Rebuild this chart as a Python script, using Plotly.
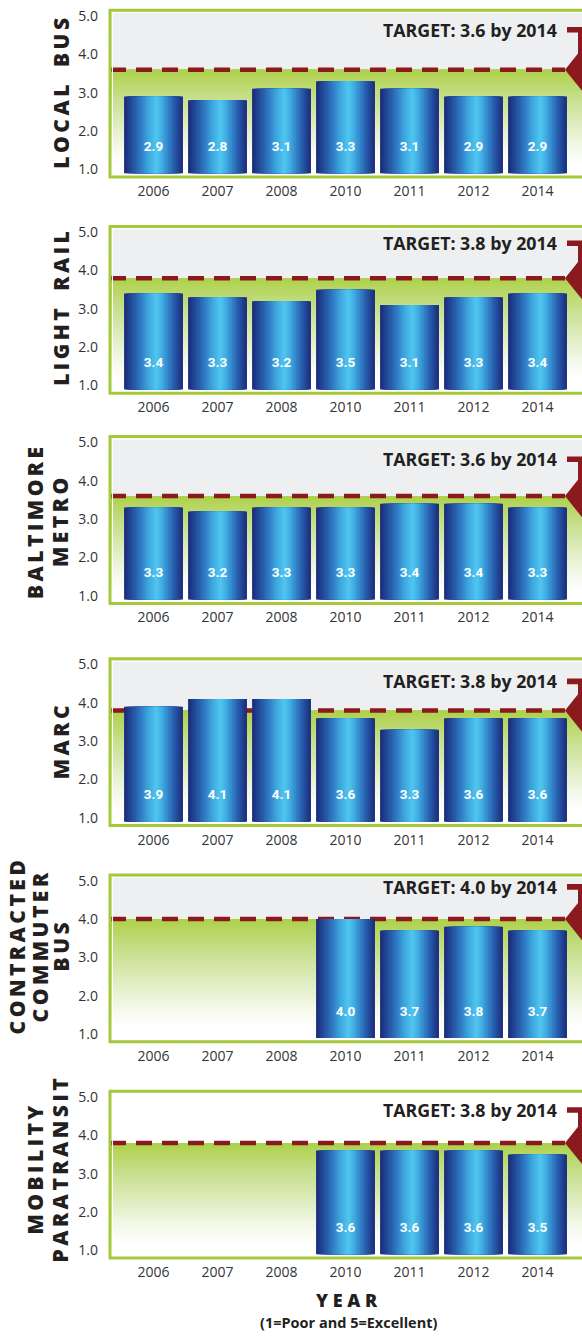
import plotly.graph_objects as go

# ---------------- data ----------------
years = ["2006", "2007", "2008", "2010", "2011", "2012", "2014"]
local_bus = [2.9, 2.8, 3.1, 3.3, 3.1, 2.9, 2.9]
light_rail = [3.4, 3.3, 3.2, 3.5, 3.1, 3.3, 3.4]
baltimore_metro = [3.3, 3.2, 3.3, 3.3, 3.4, 3.4, 3.3]
marc = [3.9, 4.1, 4.1, 3.6, 3.3, 3.6, 3.6]
contracted_commuter_bus = [None, None, None, 4.0, 3.7, 3.8, 3.7]
mobility_paratransit = [None, None, None, 3.6, 3.6, 3.6, 3.5]
targets = [3.6, 3.8, 3.6, 3.8, 4.0, 3.8]
target_year = "2014"
y_ticks = [1.0, 2.0, 3.0, 4.0, 5.0]
panel_titles = [["LOCAL BUS"], ["LIGHT RAIL"], ["BALTIMORE", "METRO"], ["MARC"],
                ["CONTRACTED", "COMMUTER", "BUS"], ["MOBILITY", "PARATRANSIT"]]
panels = [local_bus, light_rail, baltimore_metro, marc, contracted_commuter_bus, mobility_paratransit]

# ---------------- layout constants ----------------
W, H = 582, 1338
LEFT = 110
X0, X1 = -0.68, 6.695
Y0, Y1 = 0.8, 5.15
UNIT = 38.5
BASE = 0.9
BAR_W = 0.92
LABEL_Y = 1.57
top5_px = [12, 229, 440, 663, 880, 1097]
target_text_y = [4.64, 4.71, 4.56, 4.56, 4.84, 4.66]
upper_bg = ["#eeeff1"] * 5 + ["#ffffff"]
title_x_px = [[61], [61], [35, 60], [61], [17, 40, 61], [35, 60]]
title_y_px = [90, 306, 521, 741, 947, 1171]

RED = "#8b1a1f"
GREEN_BORDER = "#a6c93c"


def px_to_x(px):
    return X0 + (px - LEFT) / (W - LEFT) * (X1 - X0)


def xpaper(px):
    return (px - LEFT) / (W - LEFT)


def ypaper(py):
    return 1 - py / H


def hex2rgb(h):
    h = h.lstrip("#")
    return tuple(int(h[i:i + 2], 16) for i in (0, 2, 4))


def interp(stops, t):
    for (a, ca), (b, cb) in zip(stops[:-1], stops[1:]):
        if a <= t <= b:
            f = 0 if b == a else (t - a) / (b - a)
            r1, g1, b1 = hex2rgb(ca)
            r2, g2, b2 = hex2rgb(cb)
            return "rgb(%d,%d,%d)" % (round(r1 + (r2 - r1) * f), round(g1 + (g2 - g1) * f), round(b1 + (b2 - b1) * f))
    return stops[-1][1]


def spaced(s, gap="\u2006"):
    return (gap + "\u2002" + gap).join(gap.join(w) for w in s.split())


bar_stops = [(0, "#1b2e7c"), (0.35, "#2963b2"), (0.7, "#3ca3dd"), (1, "#52cbf3")]
green_stops = [(0, "#ffffff"), (0.12, "#ffffff"), (0.25, "#f6faee"), (0.47, "#e1eec4"),
               (0.74, "#c6df8c"), (1, "#aed14a")]

fig = go.Figure()
shapes = []
annotations = []
N_LAYERS = 16
N_STRIPS = 40

apex_x = px_to_x(565)
shaft_x = px_to_x(578)
stub_x = px_to_x(567)
far_x = px_to_x(620)
text_right_x = px_to_x(559)
slope = 1.25 * 64 / UNIT  # data-y per data-x

for k in range(6):
    s = "" if k == 0 else str(k + 1)
    xa, ya = "x" + s, "y" + s
    vals = panels[k]
    T = targets[k]

    top_px = top5_px[k] - (Y1 - 5.0) * UNIT
    bot_px = top5_px[k] + (5.0 - Y0) * UNIT
    fig.update_layout(**{
        "xaxis" + s: dict(domain=[0, 1], range=[X0, X1], anchor=ya, tickmode="array",
                          tickvals=list(range(len(years))), ticktext=years, showgrid=False,
                          zeroline=False, showline=False, ticks="", ticklabelstandoff=4,
                          tickfont=dict(family="Open Sans", size=14, color="#333333"), fixedrange=True),
        "yaxis" + s: dict(domain=[ypaper(bot_px), ypaper(top_px)], range=[Y0, Y1], anchor=xa,
                          tickmode="array", tickvals=y_ticks, ticktext=["%.1f" % v for v in y_ticks],
                          showgrid=False, zeroline=False, showline=False, ticks="", ticklabelstandoff=11,
                          tickfont=dict(family="Open Sans", size=14, color="#333333"), fixedrange=True),
    })

    # upper background
    shapes.append(dict(type="rect", xref=xa + " domain", yref=ya, x0=0, x1=1.05, y0=T, y1=Y1,
                       fillcolor=upper_bg[k], line=dict(width=0), layer="below"))
    # green gradient below target (overlapping strips, bottom to top)
    for i in range(N_STRIPS):
        y_lo = Y0 + (T - Y0) * i / N_STRIPS
        shapes.append(dict(type="rect", xref=xa + " domain", yref=ya, x0=0, x1=1.05, y0=y_lo, y1=T,
                           fillcolor=interp(green_stops, (i + 0.5) / N_STRIPS), line=dict(width=0), layer="below"))
    # dashed target line
    shapes.append(dict(type="line", xref=xa, yref=ya, x0=X0, x1=apex_x, y0=T, y1=T,
                       line=dict(color=RED, width=4.5, dash="16px,10px"), layer="below"))
    # arrow marker
    TL = target_text_y[k]
    hh = 2.8 / UNIT
    up_y = T + (shaft_x - apex_x) * slope
    path = ("M %f,%f L %f,%f L %f,%f L %f,%f L %f,%f L %f,%f L %f,%f Z" % (
        apex_x, T, shaft_x, up_y, shaft_x, TL - hh, stub_x, TL - hh, stub_x, TL + hh,
        far_x, TL + hh, far_x, T - (far_x - apex_x) * slope))
    shapes.append(dict(type="path", xref=xa, yref=ya, path=path, fillcolor=RED, line=dict(width=0), layer="above"))
    # frame
    shapes.append(dict(type="rect", xref=xa + " domain", yref=ya + " domain", x0=2.5 / 472, x1=1.05,
                       y0=2.5 / 167.5, y1=1 - 2.5 / 167.5, line=dict(color="white", width=1), layer="above"))
    shapes.append(dict(type="rect", xref=xa + " domain", yref=ya + " domain", x0=0, x1=1.05, y0=0, y1=1,
                       line=dict(color=GREEN_BORDER, width=3), layer="above"))

    # bars (layered to emulate the metallic gradient)
    xs = [i for i, v in enumerate(vals) if v is not None]
    hs = [v - BASE for v in vals if v is not None]
    for j in range(N_LAYERS):
        t = j / N_LAYERS
        fig.add_trace(go.Bar(x=xs, y=hs, base=BASE, width=BAR_W * (1 - t),
                             offset=-BAR_W / 2 + BAR_W * 0.55 * t,
                             marker=dict(color=interp(bar_stops, t), line=dict(width=0)),
                             xaxis=xa, yaxis=ya, showlegend=False, hoverinfo="skip"))
    fig.add_trace(go.Scatter(x=xs, y=[LABEL_Y] * len(xs), mode="text",
                             text=["%.1f" % v for v in vals if v is not None],
                             textfont=dict(family="Roboto", size=13.5, color="white", weight="bold"),
                             xaxis=xa, yaxis=ya, showlegend=False, hoverinfo="skip"))

    # target text
    annotations.append(dict(xref=xa, yref=ya, x=text_right_x, y=TL, xanchor="right", yanchor="middle",
                            text="TARGET: %.1f by %s" % (T, target_year), showarrow=False,
                            font=dict(family="Open Sans", size=17.8, color="#231f20", weight="bold")))
    # side titles
    for line, xpx in zip(panel_titles[k], title_x_px[k]):
        annotations.append(dict(xref="paper", yref="paper", x=xpaper(xpx), y=ypaper(title_y_px[k]),
                                xanchor="center", yanchor="middle", textangle=-90, text=spaced(line),
                                showarrow=False,
                                font=dict(family="Open Sans", size=21, color="#231f20", weight=800)))

annotations.append(dict(xref="paper", yref="paper", x=xpaper(347), y=ypaper(1301), xanchor="center",
                        yanchor="middle", text="Y E A R", showarrow=False,
                        font=dict(family="Open Sans", size=18, color="#231f20", weight=800)))
annotations.append(dict(xref="paper", yref="paper", x=xpaper(348), y=ypaper(1323), xanchor="center",
                        yanchor="middle", text="(1=Poor and 5=Excellent)", showarrow=False,
                        font=dict(family="Open Sans", size=14.5, color="#231f20", weight="bold")))

fig.update_layout(width=W, height=H, margin=dict(l=LEFT, r=0, t=0, b=0), barmode="overlay",
                  plot_bgcolor="white", paper_bgcolor="white", showlegend=False,
                  shapes=shapes, annotations=annotations, font=dict(family="Open Sans", color="#333333"))

fig.write_html("out.html", config={"displayModeBar": False},
               post_script="document.body.style.margin='0';document.body.style.overflow='hidden';")
